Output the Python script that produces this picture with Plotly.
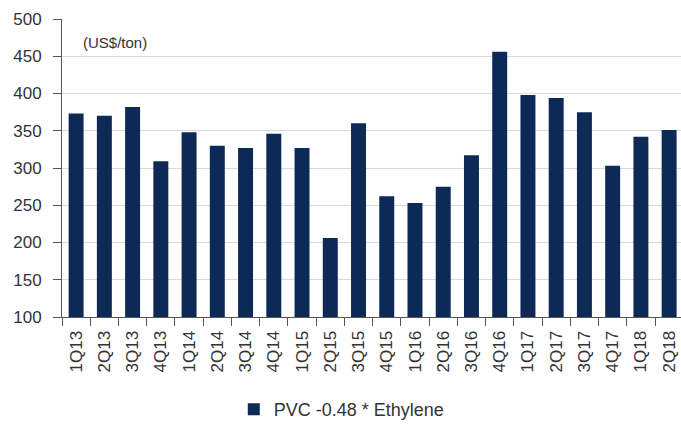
import plotly.graph_objects as go

categories = ["1Q13", "2Q13", "3Q13", "4Q13", "1Q14", "2Q14", "3Q14", "4Q14",
              "1Q15", "2Q15", "3Q15", "4Q15", "1Q16", "2Q16", "3Q16", "4Q16",
              "1Q17", "2Q17", "3Q17", "4Q17", "1Q18", "2Q18"]
spread_values = [373, 370, 382, 309, 348, 330, 327, 346,
                 327, 206, 360, 262, 253, 275, 317, 456,
                 398, 394, 375, 303, 342, 351]
series_name = "PVC -0.48 * Ethylene"
y_ticks = [100, 150, 200, 250, 300, 350, 400, 450, 500]

font_family = "Liberation Sans, Arial, sans-serif"
text_color = "#333333"
bar_color = "#0d2a56"

fig = go.Figure()
fig.add_trace(go.Bar(
    x=categories,
    y=spread_values,
    name=series_name,
    marker=dict(color=bar_color, line=dict(width=0)),
    showlegend=True,
))

fig.update_layout(
    width=681,
    height=428,
    margin=dict(l=62, r=0, t=19, b=105),
    paper_bgcolor="white",
    plot_bgcolor="white",
    bargap=0.47,
    font=dict(family=font_family, color=text_color, size=16),
    showlegend=True,
    legend=dict(
        orientation="h",
        x=0.452, xanchor="center",
        y=-0.311, yanchor="middle",
        font=dict(size=18, color=text_color),
        itemwidth=30,
        bgcolor="rgba(0,0,0,0)",
    ),
    annotations=[dict(
        text="(US$/ton)",
        xref="paper", yref="paper",
        x=0.03, y=0.921,
        xanchor="left", yanchor="middle",
        showarrow=False,
        font=dict(size=15, color=text_color, family=font_family),
    )],
)

fig.update_xaxes(
    type="category",
    range=[-0.5, 21.42],
    tickangle=-90,
    tickfont=dict(size=17, color=text_color),
    showline=True, linecolor="#555555", linewidth=1,
    ticks="outside", ticklen=8, tickcolor="#555555",
    tickson="boundaries",
    ticklabelstandoff=6,
    showgrid=False,
)
fig.update_yaxes(
    range=[100, 500],
    tickvals=y_ticks,
    tickfont=dict(size=17, color=text_color),
    showline=True, linecolor="#555555", linewidth=1,
    ticks="outside", ticklen=8, tickcolor="#555555",
    ticklabelstandoff=8,
    showgrid=True, gridcolor="#d9d9d9", gridwidth=1,
    zeroline=False,
)

fig.write_html("out.html")
